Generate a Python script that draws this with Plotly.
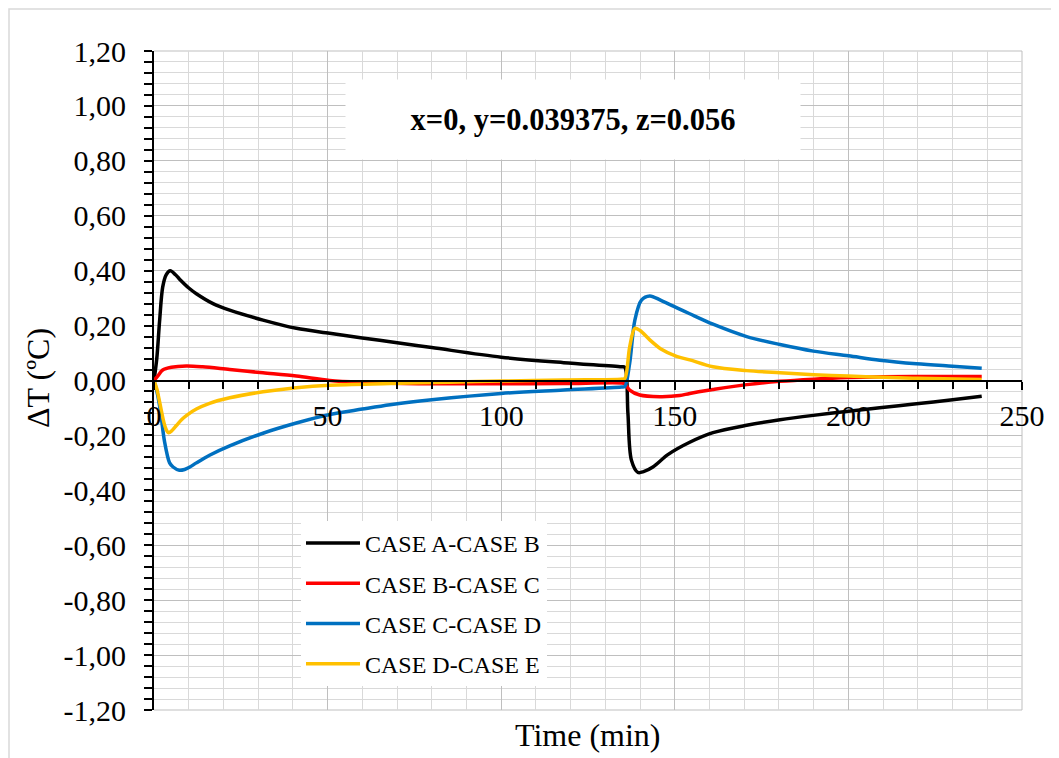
import plotly.graph_objects as go

# ---- data ----
series_names = ["CASE A-CASE B", "CASE B-CASE C", "CASE C-CASE D", "CASE D-CASE E"]
series_colors = ["#000000", "#FF0000", "#0070C0", "#FFC000"]

t_ab = [0, 0.8, 1.6, 2.5, 3.5, 4.7, 6.2, 7.3, 10.2, 12.2, 17, 21.8, 31.4, 41, 50.6, 60, 68, 80, 100, 118, 134.6,
        135.6, 136.5, 137.5, 139.4, 141, 143.7, 148, 154.3, 161, 170.7, 180.3, 189.9, 200, 209, 219.6, 230, 238.4]
v_ab = [0, 0.08, 0.215, 0.34, 0.385, 0.40, 0.385, 0.37, 0.335, 0.316, 0.28, 0.256, 0.22, 0.19, 0.172, 0.155, 0.141, 0.12, 0.085, 0.065, 0.05,
        0.048, -0.12, -0.29, -0.335, -0.332, -0.315, -0.27, -0.225, -0.19, -0.163, -0.143, -0.127, -0.112, -0.099, -0.085, -0.07, -0.057]

t_bc = [0, 1, 2.5, 5, 9.3, 14, 21.8, 31.4, 41, 50.6, 60, 68, 80, 100, 118, 134.6,
        135.6, 137, 139.9, 145.7, 151.4, 154.3, 161, 170.7, 180.3, 190, 200, 210, 220, 238.4]
v_bc = [0, 0.015, 0.038, 0.048, 0.053, 0.05, 0.04, 0.028, 0.016, 0.0, -0.007, -0.01, -0.012, -0.012, -0.011, -0.009,
        -0.012, -0.035, -0.053, -0.059, -0.055, -0.047, -0.033, -0.015, -0.003, 0.005, 0.011, 0.014, 0.015, 0.015]

t_cd = [0, 1, 2, 3, 4.5, 5.5, 7.3, 8.8, 10.2, 12.2, 16, 21.8, 31.4, 41, 50.6, 60, 68, 80, 100, 118, 134.6,
        135.6, 137, 138.5, 140.4, 142.8, 146, 151.4, 154.3, 161, 170.7, 180.3, 189.9, 200, 209, 219.6, 230, 238.4]
v_cd = [0, -0.05, -0.125, -0.22, -0.30, -0.315, -0.327, -0.324, -0.316, -0.300, -0.272, -0.238, -0.192, -0.155, -0.124, -0.104, -0.088, -0.07, -0.047, -0.035, -0.024,
        -0.022, 0.063, 0.22, 0.293, 0.308, 0.292, 0.26, 0.243, 0.205, 0.16, 0.131, 0.107, 0.09, 0.074, 0.061, 0.052, 0.045]

t_de = [0, 0.8, 1.6, 2.8, 3.4, 4.2, 5.2, 6.5, 8, 9.5, 12.2, 16, 21.8, 31.4, 41, 50.6, 68, 85, 100, 118, 134.6,
        135.6, 137, 138.5, 140, 142.8, 146, 150.5, 154.3, 161, 170.7, 180.3, 190, 200, 210, 220, 238.4]
v_de = [0, -0.03, -0.077, -0.15, -0.175, -0.19, -0.182, -0.163, -0.142, -0.126, -0.104, -0.083, -0.063, -0.041, -0.026, -0.017, -0.011, -0.006, -0.002, 0.002, 0.005,
        0.007, 0.122, 0.19, 0.182, 0.148, 0.115, 0.088, 0.075, 0.05, 0.036, 0.028, 0.021, 0.016, 0.012, 0.008, 0.004]

x_range = [0, 250]
y_range = [-1.2, 1.2]
y_tickvals = [1.2, 1.0, 0.8, 0.6, 0.4, 0.2, 0.0, -0.2, -0.4, -0.6, -0.8, -1.0, -1.2]
y_ticktext = ["1,20", "1,00", "0,80", "0,60", "0,40", "0,20", "0,00",
              "-0,20", "-0,40", "-0,60", "-0,80", "-1,00", "-1,20"]
annotation_text = "x=0, y=0.039375, z=0.056"
x_title = "Time (min)"
y_title = "ΔT (ºC)"

FONT = "Times New Roman, Liberation Serif, serif"

fig = go.Figure()
for i, (t, v) in enumerate([(t_ab, v_ab), (t_bc, v_bc), (t_cd, v_cd), (t_de, v_de)]):
    fig.add_trace(go.Scatter(
        x=t, y=v, mode="lines", name=series_names[i], legendgroup=f"g{i}",
        line=dict(color=series_colors[i], width=3.5, shape="spline", smoothing=0.9),
    ))

# page body has an 8px margin: figure is placed at (8, 8)
OFF = 8
W, H = 1059 - OFF, 758 - OFF
PL, PR, PT, PB = 154, 1022, 51, 710   # plot area in page pixels
ml, mr, mt, mb = PL - OFF, 1059 - PR, PT - OFF, 758 - PB
pw, ph = PR - PL, PB - PT

def px_to_paper_x(px):
    return (px - PL) / pw

def px_to_paper_y(py):
    return (PB - py) / ph

fig.update_layout(
    width=W, height=H,
    margin=dict(l=ml, r=mr, t=mt, b=mb, autoexpand=False),
    paper_bgcolor="white", plot_bgcolor="white",
    font=dict(family=FONT, color="black"),
    showlegend=True,
    legend=dict(
        x=px_to_paper_x(301), y=px_to_paper_y(521), xanchor="left", yanchor="top",
        bgcolor="white", borderwidth=0, font=dict(family=FONT, size=24, color="black"),
        tracegroupgap=6, traceorder="grouped", itemwidth=54,
    ),
    xaxis=dict(
        range=x_range, dtick=50, tick0=0,
        showgrid=True, gridcolor="#bfbfbf", gridwidth=1,
        minor=dict(dtick=10, showgrid=True, gridcolor="#d9d9d9", gridwidth=1,
                   ticks="outside", ticklen=7, tickcolor="black", tickwidth=1.5),
        ticks="outside", ticklen=8, tickcolor="black", tickwidth=1.5,
        showline=True, linecolor="black", linewidth=2,
        anchor="free", position=0.5, zeroline=False,
        tickfont=dict(family=FONT, size=30, color="black"),
    ),
    yaxis=dict(
        range=y_range, tickmode="array", tickvals=y_tickvals, ticktext=y_ticktext,
        showgrid=True, gridcolor="#bfbfbf", gridwidth=1,
        minor=dict(dtick=0.04, tick0=0, showgrid=True, gridcolor="#d9d9d9", gridwidth=1,
                   ticks="outside", ticklen=8, tickcolor="black", tickwidth=1.5),
        ticks="outside", ticklen=8, tickcolor="black", tickwidth=1.5,
        showline=True, linecolor="black", linewidth=2, zeroline=False,
        tickfont=dict(family=FONT, size=30, color="black"),
        ticklabelstandoff=12,
    ),
)

# plot frame (grid-coloured edges) and outer chart border
fig.add_shape(type="line", xref="paper", yref="paper", x0=0, x1=1, y0=1, y1=1,
              line=dict(color="#bfbfbf", width=1), layer="below")
fig.add_shape(type="line", xref="paper", yref="paper", x0=1, x1=1, y0=0, y1=1,
              line=dict(color="#bfbfbf", width=1), layer="below")
fig.add_shape(type="line", xref="paper", yref="paper", x0=0, x1=1, y0=0, y1=0,
              line=dict(color="#bfbfbf", width=1), layer="below")
fig.add_shape(type="rect", xref="paper", yref="paper",
              x0=px_to_paper_x(9), x1=px_to_paper_x(1075), y0=px_to_paper_y(775), y1=px_to_paper_y(9),
              line=dict(color="#d9d9d9", width=1.5), fillcolor="rgba(0,0,0,0)")

fig.add_annotation(
    text=f"<b>{annotation_text}</b>", xref="paper", yref="paper",
    x=px_to_paper_x(573), y=px_to_paper_y(119.5), xanchor="center", yanchor="middle",
    showarrow=False, bgcolor="white", width=454, height=79, borderpad=0,
    font=dict(family=FONT, size=30.5, color="black"),
)
fig.add_annotation(
    text=x_title, xref="paper", yref="paper",
    x=px_to_paper_x(588), y=px_to_paper_y(735), xanchor="center", yanchor="middle",
    showarrow=False, font=dict(family=FONT, size=32, color="black"),
)
fig.add_annotation(
    text=y_title, xref="paper", yref="paper", textangle=-90,
    x=px_to_paper_x(38), y=px_to_paper_y(378), xanchor="center", yanchor="middle",
    showarrow=False, font=dict(family=FONT, size=32, color="black"),
)

fig.write_html("out.html")
